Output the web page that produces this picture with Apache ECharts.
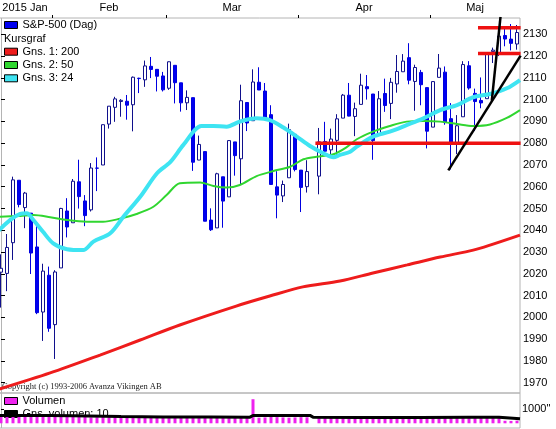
<!DOCTYPE html>
<html>
<head>
<meta charset="utf-8">
<title>S&amp;P-500 (Dag)</title>
<script src="https://cdn.jsdelivr.net/npm/echarts@6/dist/echarts.min.js"></script>
<style>
html, body { margin: 0; padding: 0; background: #fff; }
#main { width: 556px; height: 429px; }
</style>
</head>
<body>
<div id="main"></div>
<script>
// trading days shown (Good Friday 2015-04-03 is an empty slot)
var dates = [
    '2015-01-20','2015-01-21','2015-01-22','2015-01-23','2015-01-26','2015-01-27','2015-01-28','2015-01-29','2015-01-30',
    '2015-02-02','2015-02-03','2015-02-04','2015-02-05','2015-02-06','2015-02-09','2015-02-10','2015-02-11','2015-02-12','2015-02-13',
    '2015-02-17','2015-02-18','2015-02-19','2015-02-20','2015-02-23','2015-02-24','2015-02-25','2015-02-26','2015-02-27',
    '2015-03-02','2015-03-03','2015-03-04','2015-03-05','2015-03-06','2015-03-09','2015-03-10','2015-03-11','2015-03-12','2015-03-13',
    '2015-03-16','2015-03-17','2015-03-18','2015-03-19','2015-03-20','2015-03-23','2015-03-24','2015-03-25','2015-03-26','2015-03-27',
    '2015-03-30','2015-03-31',
    '2015-04-01','2015-04-02','2015-04-03','2015-04-06','2015-04-07','2015-04-08','2015-04-09','2015-04-10','2015-04-13','2015-04-14',
    '2015-04-15','2015-04-16','2015-04-17','2015-04-20','2015-04-21','2015-04-22','2015-04-23','2015-04-24','2015-04-27','2015-04-28',
    '2015-04-29','2015-04-30',
    '2015-05-01','2015-05-04','2015-05-05','2015-05-06','2015-05-07','2015-05-08','2015-05-11','2015-05-12','2015-05-13','2015-05-14',
    '2015-05-15','2015-05-18','2015-05-19','2015-05-20','2015-05-21'
];

var opens = [
    2020.76, 2020.19, 2034.30, 2062.98, 2050.42, 2047.86, 2032.34, 2002.45, 2019.35,
    1996.67, 2022.71, 2048.86, 2043.45, 2062.28, 2053.47, 2049.38, 2068.55, 2069.98, 2088.78, 2096.47, 2099.16, 2099.25, 2097.65, 2109.83, 2109.10, 2115.30, 2113.91, 2110.88,
    2105.23, 2115.76, 2107.72, 2098.54, 2100.91, 2072.25, 2076.14, 2044.69, 2041.10, 2064.56, 2055.35, 2080.59, 2072.84, 2098.69, 2090.32, 2107.99, 2103.94, 2093.10, 2059.94, 2055.78, 2064.11, 2084.05,
    2067.63, 2060.03, null, 2064.87, 2080.79, 2076.94, 2081.29, 2091.51, 2102.03, 2092.28, 2097.82, 2105.96, 2102.58, 2084.11, 2102.82, 2098.27, 2107.21, 2112.80, 2119.29, 2108.35, 2112.49, 2105.52,
    2087.38, 2110.23, 2112.63, 2091.26, 2079.96, 2092.13, 2115.56, 2102.87, 2099.62, 2100.43, 2122.07, 2121.30, 2129.45, 2127.79, 2125.55
];
var highs = [
    2028.94, 2038.29, 2064.62, 2062.98, 2057.62, 2047.86, 2042.49, 2024.64, 2023.32,
    2021.66, 2050.30, 2054.74, 2063.55, 2072.40, 2056.16, 2070.86, 2073.48, 2088.53, 2097.03, 2101.30, 2100.23, 2102.13, 2110.61, 2110.05, 2117.94, 2119.59, 2113.91, 2112.74,
    2117.52, 2115.76, 2107.72, 2104.25, 2100.91, 2083.49, 2076.14, 2050.08, 2066.41, 2064.56, 2081.41, 2080.59, 2106.85, 2098.69, 2113.92, 2114.86, 2107.63, 2097.43, 2067.15, 2062.83, 2088.97, 2084.05,
    2067.63, 2072.17, null, 2086.99, 2089.81, 2086.69, 2093.31, 2102.61, 2107.65, 2098.62, 2111.91, 2111.30, 2102.58, 2103.94, 2109.64, 2109.98, 2120.49, 2120.92, 2125.92, 2116.04, 2113.65, 2105.52,
    2108.41, 2120.95, 2115.24, 2098.42, 2092.90, 2117.66, 2117.69, 2105.06, 2110.19, 2121.45, 2123.89, 2131.78, 2133.02, 2134.72, 2134.28
];
var lows = [
    2004.49, 2012.04, 2026.38, 2050.54, 2040.97, 2019.91, 2001.49, 1989.18, 1993.38,
    1980.90, 2022.71, 2036.72, 2043.45, 2049.97, 2041.88, 2048.62, 2057.99, 2069.98, 2086.70, 2089.80, 2092.15, 2090.79, 2085.44, 2103.00, 2105.87, 2109.89, 2103.76, 2103.75,
    2104.50, 2098.26, 2094.49, 2095.22, 2067.27, 2072.21, 2044.16, 2039.69, 2041.10, 2041.17, 2055.35, 2065.08, 2061.23, 2085.56, 2090.32, 2104.42, 2091.50, 2061.05, 2045.50, 2052.96, 2064.11, 2067.04,
    2048.38, 2057.32, null, 2056.52, 2076.10, 2073.30, 2074.29, 2091.51, 2092.33, 2083.24, 2097.82, 2100.02, 2072.37, 2084.11, 2094.38, 2091.05, 2103.19, 2112.80, 2107.04, 2094.89, 2097.41, 2077.59,
    2087.38, 2110.23, 2088.46, 2067.93, 2074.99, 2092.13, 2104.58, 2085.57, 2096.04, 2100.43, 2116.81, 2120.01, 2124.50, 2122.59, 2122.95
];
var closes = [
    2022.55, 2032.12, 2063.15, 2051.82, 2057.09, 2029.55, 2002.16, 2021.25, 1994.99,
    2020.85, 2050.03, 2041.51, 2062.52, 2055.47, 2046.74, 2068.59, 2068.53, 2088.48, 2096.99, 2100.34, 2099.68, 2097.45, 2110.30, 2109.66, 2115.48, 2113.86, 2110.74, 2104.50,
    2117.39, 2107.78, 2098.53, 2101.04, 2071.26, 2079.43, 2044.16, 2040.24, 2065.95, 2053.40, 2081.19, 2074.28, 2099.50, 2089.27, 2108.10, 2104.42, 2091.50, 2061.05, 2056.15, 2061.02, 2086.24, 2067.89,
    2059.69, 2066.96, null, 2080.62, 2076.33, 2081.90, 2091.18, 2102.06, 2092.43, 2095.84, 2106.63, 2104.99, 2081.18, 2100.40, 2097.29, 2107.96, 2112.93, 2117.69, 2108.92, 2114.76, 2106.85, 2085.51,
    2108.29, 2114.49, 2089.46, 2080.15, 2088.00, 2116.10, 2105.33, 2099.12, 2098.48, 2121.10, 2122.73, 2129.20, 2127.83, 2125.85, 2130.82
];

// moving averages, [day index, price]
var ma200 = [[-0.5, 1966.9], [8.2, 1974.5], [16.5, 1982.7], [23.2, 1989.6], [29.8, 1996.5], [39.2, 2005.2], [44.8, 2009.8],
    [50.3, 2014.0], [56.5, 2016.7], [62, 2020.4], [67.7, 2024.1], [73.2, 2027.7], [78.7, 2030.9], [81.5, 2033.2], [86.5, 2037.8]];
var ma50 = [[-0.5, 2046.2], [3.2, 2046.6], [5.4, 2047.0], [8.2, 2046.0], [11, 2044.7], [14.3, 2043.9], [17, 2043.9], [19.8, 2045.3],
    [22.6, 2047.5], [25.4, 2050.8], [27.6, 2056.2], [29.8, 2061.6], [33.2, 2062.0], [35.4, 2060.3], [37.6, 2059.6], [39.8, 2060.8],
    [42.6, 2064.9], [45.4, 2067.2], [48.2, 2069.2], [50.4, 2072.6], [52.6, 2073.8], [55.4, 2074.9], [57.5, 2078.0], [59.3, 2081.8],
    [62, 2085.3], [64.8, 2087.9], [67.6, 2089.9], [70.4, 2090.2], [73.2, 2089.9], [76, 2088.8], [78.7, 2087.9], [81.5, 2088.6],
    [84.3, 2091.6], [86.5, 2095.2]];
var ma24 = [[-0.5, 2039.6], [1.5, 2044.7], [3.2, 2047.5], [4.3, 2047.8], [5.4, 2044.7], [7, 2039.3], [8.7, 2034.0], [11, 2031.3],
    [13.7, 2030.9], [15.4, 2034.8], [18.2, 2038.6], [20.4, 2046.2], [23.2, 2055.4], [26, 2066.2], [28.2, 2071.3], [30.4, 2079.2],
    [33.4, 2087.9], [35.4, 2087.9], [37.6, 2087.6], [39.8, 2089.9], [42.6, 2091.4], [44.8, 2090.6], [47, 2087.3], [49.3, 2083.0],
    [51.5, 2078.7], [53.7, 2075.4], [55.4, 2073.5], [56.5, 2074.6], [58.2, 2076.1], [59.3, 2078.4], [62, 2083.0], [64.8, 2085.3],
    [67.6, 2088.3], [70.4, 2091.4], [73.2, 2095.2], [76, 2097.5], [78.7, 2101.1], [81.5, 2102.6], [84.3, 2105.2], [86.5, 2109.0]];

// drawn support/resistance levels and trend lines
var levelPrices = [2080, 2121.2, 2133];
var levelStarts = [52.4, 79.5, 79.5];
var trendA = [[74.55, 2067.5], [86.6, 2120.2]];
var trendB = [[81.8, 2099.5], [83.25, 2138]];

var volumes = [
    560, 540, 560, 520, 480, 540, 600, 620, 640,
    560, 520, 470, 450, 500, 480, 420, 430, 470, 440, 460, 430, 400, 470, 400, 410, 400, 420, 480,
    460, 430, 450, 400, 480, 420, 520, 480, 470, 430, 420, 400, 450, 400, 1720, 400, 420, 460, 440, 420, 400, 420,
    440, 430, null, 400, 380, 420, 400, 380, 350, 400, 420, 400, 480, 380, 380, 400, 420, 400, 420, 440, 460, 520,
    440, 400, 460, 480, 440, 450, 380, 420, 400, 440, 460, 440, 180, 170, 190
];
var volMa10 = [[-0.5, 560], [8, 560], [12, 540], [20, 480], [27, 450], [35, 450], [41.5, 440], [42, 560], [51.5, 565],
    [52, 440], [60, 420], [70, 420], [78, 440], [83, 440], [86.5, 330]];

var priceTicks = [1970, 1980, 1990, 2000, 2010, 2020, 2030, 2040, 2050, 2060, 2070, 2080, 2090, 2100, 2110, 2120, 2130];
var volumeTicks = [1000];
var monthLabels = ['2015 Jan', 'Feb', 'Mar', 'Apr', 'Maj'];

var FONT = '"Liberation Sans", Arial, sans-serif';
var FRAME = '#b4b4b4';

// month label positions (middle of month) and tick positions (month boundaries)
var monthMid = [], monthEdge = [];
var start = 0;
for (var i = 1; i <= dates.length; i++) {
    if (i === dates.length || dates[i].slice(5, 7) !== dates[i - 1].slice(5, 7)) {
        monthMid.push((start + i - 1) / 2);
        if (i < dates.length) monthEdge.push(i - 0.5);
        start = i;
    }
}

var candles = dates.map(function (d, i) {
    if (opens[i] === null) return '-';
    return [opens[i], closes[i], lows[i], highs[i]];
});
var volData = volumes.map(function (v) { return v === null ? '-' : v; });

var chart = echarts.init(document.getElementById('main'), null, { renderer: 'canvas' });

var series = [
    {
        name: 'S&P-500 (Dag)', type: 'candlestick', xAxisIndex: 0, yAxisIndex: 0,
        data: candles, barWidth: 4, z: 2,
        itemStyle: { color: '#ffffff', color0: '#0000f0', borderColor: '#10108c', borderColor0: '#0000e0', borderWidth: 1 }
    },
    {
        name: 'Gns. 1: 200', type: 'line', xAxisIndex: 1, yAxisIndex: 0, data: ma200,
        showSymbol: false, smooth: 0.3, z: 3, color: '#ee1c1c', lineStyle: { color: '#ee1c1c', width: 3 }
    },
    {
        name: 'Gns. 2: 50', type: 'line', xAxisIndex: 1, yAxisIndex: 0, data: ma50,
        showSymbol: false, smooth: 0.3, z: 3, color: '#30d630', lineStyle: { color: '#30d630', width: 2 }
    },
    {
        name: 'Gns. 3: 24', type: 'line', xAxisIndex: 1, yAxisIndex: 0, data: ma24,
        showSymbol: false, smooth: 0.3, z: 3, color: '#3ee4f2', lineStyle: { color: '#3ee4f2', width: 4 }
    },
    {
        name: 'Volumen', type: 'bar', xAxisIndex: 2, yAxisIndex: 1, data: volData,
        barWidth: 3, z: 2, color: '#ee22ee', itemStyle: { color: '#ee22ee' }
    },
    {
        name: 'Gns. volumen: 10', type: 'line', xAxisIndex: 3, yAxisIndex: 1, data: volMa10,
        showSymbol: false, z: 3, color: '#000000', lineStyle: { color: '#000000', width: 3 }
    }
];

levelPrices.forEach(function (p, k) {
    series.push({
        type: 'line', xAxisIndex: 1, yAxisIndex: 0, showSymbol: false, silent: true, z: 4,
        data: [[levelStarts[k], p], [86.6, p]],
        lineStyle: { color: '#ee1111', width: 3.5 }
    });
});
[trendA, trendB].forEach(function (t) {
    series.push({
        type: 'line', xAxisIndex: 1, yAxisIndex: 0, showSymbol: false, silent: true, z: 5,
        data: t, lineStyle: { color: '#000000', width: 2.5 }
    });
});

var legendText = { fontSize: 11, color: '#000', fontFamily: FONT, lineHeight: 13 };

var option = {
    animation: false,
    backgroundColor: '#ffffff',
    textStyle: { fontFamily: FONT },
    grid: [
        { left: -2, top: 18, width: 522, height: 375, show: true, borderColor: FRAME, borderWidth: 1, outerBoundsMode: 'none' },
        { left: -2, top: 393, width: 522, height: 35, show: true, borderColor: FRAME, borderWidth: 1, outerBoundsMode: 'none' }
    ],
    xAxis: [
        { type: 'category', gridIndex: 0, data: dates, boundaryGap: true, show: false },
        {
            type: 'value', gridIndex: 0, position: 'top', min: -0.5, max: dates.length - 0.5,
            axisLine: { show: false },
            axisTick: { show: true, customValues: monthEdge, length: 3, lineStyle: { color: '#000' } },
            axisLabel: {
                show: true, customValues: monthMid, margin: 5, fontSize: 11, color: '#000', fontFamily: FONT,
                formatter: function (v) { return monthLabels[monthMid.indexOf(v)] || ''; }
            },
            splitLine: { show: false }
        },
        { type: 'category', gridIndex: 1, data: dates, boundaryGap: true, show: false },
        { type: 'value', gridIndex: 1, min: -0.5, max: dates.length - 0.5, show: false }
    ],
    yAxis: [
        {
            type: 'value', gridIndex: 0, position: 'right', min: 1965.27, max: 2137.49, scale: true,
            axisLine: { show: false },
            axisTick: { show: true, customValues: priceTicks, length: 4, lineStyle: { color: '#000' } },
            axisLabel: {
                show: true, customValues: priceTicks, margin: 3, fontSize: 11, color: '#000', fontFamily: FONT,
                formatter: function (v) { return String(v); }
            },
            splitLine: { show: false }
        },
        {
            type: 'value', gridIndex: 1, position: 'right', min: -336, max: 2164,
            axisLine: { show: false },
            axisTick: { show: true, customValues: volumeTicks, length: 3, lineStyle: { color: '#000' } },
            axisLabel: {
                show: true, customValues: volumeTicks, margin: 2, fontSize: 11, color: '#000', fontFamily: FONT,
                formatter: function (v) { return v + '"'; }
            },
            splitLine: { show: false }
        }
    ],
    legend: [
        {
            left: 4, top: 18.5, orient: 'vertical', padding: 0, itemGap: 0, selectedMode: false,
            icon: 'rect', itemWidth: 13, itemHeight: 7, textStyle: legendText,
            itemStyle: { borderColor: '#000', borderWidth: 1 },
            data: [{ name: 'S&P-500 (Dag)', itemStyle: { color: '#0000f0' } }]
        },
        {
            left: 4, top: 45.2, orient: 'vertical', padding: 0, itemGap: 0.3, selectedMode: false,
            icon: 'rect', itemWidth: 13, itemHeight: 7, textStyle: legendText,
            itemStyle: { borderColor: '#000', borderWidth: 1 },
            data: [
                { name: 'Gns. 1: 200', itemStyle: { color: '#ee1c1c' } },
                { name: 'Gns. 2: 50', itemStyle: { color: '#30d630' } },
                { name: 'Gns. 3: 24', itemStyle: { color: '#3ee4f2' } }
            ]
        },
        {
            left: 4, top: 394.5, orient: 'vertical', padding: 0, itemGap: 0, selectedMode: false, z: 1,
            icon: 'rect', itemWidth: 13, itemHeight: 7, textStyle: legendText,
            itemStyle: { borderColor: '#000', borderWidth: 1 },
            data: [
                { name: 'Volumen', itemStyle: { color: '#ee22ee' } },
                { name: 'Gns. volumen: 10', itemStyle: { color: '#000000' } }
            ]
        }
    ],
    graphic: [
        { type: 'line', shape: { x1: 1.5, y1: 18, x2: 1.5, y2: 428 }, style: { stroke: FRAME, lineWidth: 1 }, z: 0 },
        { type: 'text', x: 4, y: 39.3, z: 0, style: { text: 'Kursgraf', fill: '#000', font: '11px ' + FONT, verticalAlign: 'middle' } },
        { type: 'text', x: 2, y: 387, z: 0, style: { text: 'Copyright (c) 1993-2006 Avanza Vikingen AB', fill: '#222', font: '8.5px "Liberation Serif", serif', verticalAlign: 'middle' } }
    ],
    series: series
};

chart.setOption(option);
</script>
</body>
</html>
